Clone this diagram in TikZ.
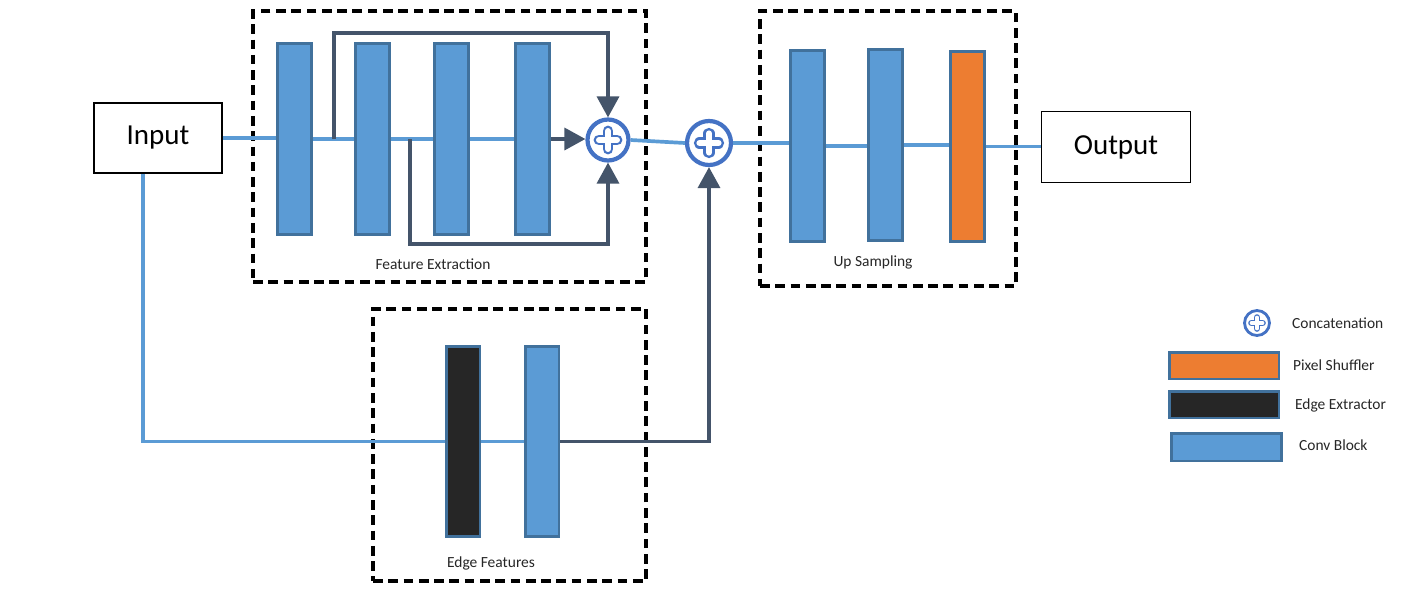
\documentclass[tikz,border=0pt]{standalone}
\usepackage{fontspec}
\setmainfont{Carlito}
\usepackage{tikz}
\usetikzlibrary{arrows.meta,positioning,calc}
\definecolor{convblue}{HTML}{5B9BD5}
\definecolor{convedge}{HTML}{41719C}
\definecolor{shuforange}{HTML}{ED7D31}
\definecolor{edgeblack}{HTML}{262626}
\definecolor{arrowdark}{HTML}{44546A}
\definecolor{concatblue}{HTML}{4472C4}
\tikzset{
  convblock/.style={draw=convedge, line width=1.7pt, fill=convblue, inner sep=0pt,
    minimum width=0.68cm, minimum height=3.82cm},
  shufblock/.style={convblock, fill=shuforange},
  edgeblock/.style={convblock, fill=edgeblack},
  iobox/.style={draw=black, line width=0.9pt, fill=white, inner sep=0pt,
    font=\fontsize{16.5}{18}\selectfont},
  stagebox/.style={draw=black, line width=2pt, dash pattern=on 5.5pt off 3.2pt,
    inner sep=0pt},
  concat/.style={circle, draw=concatblue, line width=2.4pt, fill=white,
    minimum size=0.82cm, inner sep=0pt},
  featline/.style={draw=convblue, line width=2.1pt},
  skiparrow/.style={-{Triangle[length=4.2mm, width=4.4mm]}, draw=arrowdark,
    line width=2pt},
  smallnote/.style={font=\fontsize{8.8}{10}\selectfont, text=black!85, inner sep=1pt}
}
% plus mark inside a concatenation circle
\newcommand{\concatplus}[3]{%
  \draw[concatblue, line width=#3, line cap=round]
    ([xshift=-#2]#1.center) -- ([xshift=#2]#1.center)
    ([yshift=-#2]#1.center) -- ([yshift=#2]#1.center);
  \draw[white, line width=0.55*#3, line cap=round]
    ([xshift=-#2]#1.center) -- ([xshift=#2]#1.center)
    ([yshift=-#2]#1.center) -- ([yshift=#2]#1.center);
}
\begin{document}
\begin{tikzpicture}[x=0.02cm, y=-0.02cm]
  \useasboundingbox (0,0) rectangle (1413,599);
  % stages
  \node[stagebox, minimum width=7.86cm, minimum height=5.42cm] (festage) at (449.5,146.5) {};
  \node[stagebox, minimum width=5.12cm, minimum height=5.5cm] (usstage) at (888,148.5) {};
  \node[stagebox, minimum width=5.46cm, minimum height=5.44cm] (efstage) at (509.5,445) {};
  \node[smallnote] (felabel) at (433,264) {Feature Extraction};
  \node[smallnote] (uslabel) at (873,262) {Up Sampling};
  \node[smallnote] (eflabel) at (491,563) {Edge Features};

  % input / output
  \node[iobox, minimum width=2.56cm, minimum height=1.4cm] (in) at (158,138) {Input};
  \node[iobox, minimum width=2.98cm, minimum height=1.42cm] (out) at (1116,147) {Output};

  % feature extraction
  \node[convblock] (fe1) at (294.5,139) {};
  \node[convblock] (fe2) at (372.5,139) {};
  \node[convblock] (fe3) at (451.5,139) {};
  \node[convblock] (fe4) at (532.5,139) {};
  \node[concat] (c1) at (608,140) {};
  \concatplus{c1}{0.18cm}{6.2pt}

  % merge
  \node[concat, minimum size=0.88cm] (c2) at (709,143) {};
  \concatplus{c2}{0.19cm}{6.4pt}

  % up sampling
  \node[convblock] (us1) at (807,146) {};
  \node[convblock] (us2) at (885,145) {};
  \node[shufblock] (us3) at (967,146.5) {};

  % edge features
  \node[edgeblock] (ee) at (463,441.5) {};
  \node[convblock] (eb) at (542,441.5) {};

  % main path
  \draw[featline] (in.east) -- (in.east -| fe1.west);
  \draw[featline] (fe1.east) -- (fe2.west);
  \draw[featline] (fe2.east) -- (fe3.west);
  \draw[featline] (fe3.east) -- (fe4.west);
  \draw[skiparrow] (fe4.east) -- (fe4.east -| c1.west);
  \draw[featline] (c1.east) -- (c2.west);
  \draw[featline] (c2.east) -- (c2.east -| us1.west);
  \draw[featline] (us1.east) -- (us1.east -| us2.west);
  \draw[featline] (us2.east) -- (us2.east -| us3.west);
  \draw[featline] (us3.east) -- (us3.east -| out.west);

  % skip connections
  \coordinate (s1) at (334,139);
  \coordinate (s2) at (410,139);
  \draw[skiparrow] (s1) -- ++(0,-106) -| (c1.north);
  \draw[skiparrow] (s2) -- ++(0,105) -| (c1.south);

  % edge branch
  \draw[featline] ([xshift=-0.3cm]in.south) |- (ee.west);
  \draw[featline] (ee.east) -- (eb.west);
  \draw[skiparrow] (eb.east) -| (c2.south);

  % legend
  \node[concat, minimum size=0.5cm, line width=1.6pt] (lgc) at (1257,323) {};
  \concatplus{lgc}{0.11cm}{3.8pt}
  \node[smallnote, anchor=west] (lgct) at (1290,323) {Concatenation};
  \node[shufblock, minimum width=2.2cm, minimum height=0.54cm] (lgs) at (1224,365.5) {};
  \node[smallnote, anchor=west] (lgst) at (1291,365) {Pixel Shuffler};
  \node[edgeblock, minimum width=2.2cm, minimum height=0.54cm] (lge) at (1224,404.5) {};
  \node[smallnote, anchor=west] (lget) at (1293,405) {Edge Extractor};
  \node[convblock, minimum width=2.2cm, minimum height=0.56cm] (lgb) at (1226.5,447) {};
  \node[smallnote, anchor=west] (lgbt) at (1297,445) {Conv Block};
\end{tikzpicture}
\end{document}
